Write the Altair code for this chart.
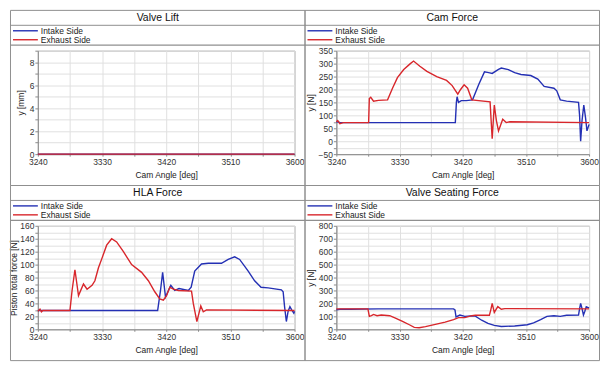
import altair as alt
import pandas as pd

# ---------------- data ----------------
ANGLE_LABELS = [3240, 3330, 3420, 3510, 3600]
ANGLE_GRID = [3240, 3285, 3330, 3375, 3420, 3465, 3510, 3555, 3600]
SERIES = ["Intake Side", "Exhaust Side"]
TITLES = ["Valve Lift", "Cam Force", "HLA Force", "Valve Seating Force"]
Y_TITLES = ["y [mm]", "y [N]", "Piston total force [N]", "y [N]"]
X_TITLE = "Cam Angle [deg]"

# Valve Lift
VL_IN_ANGLE = [3240, 3600]
VL_IN_VALUE = [0, 0]
VL_EX_ANGLE = [3240, 3600]
VL_EX_VALUE = [0, 0]
VL_Y_DOMAIN = [0, 9]
VL_Y_LABELS = [0, 2, 4, 6, 8]
VL_Y_GRID = [0, 1, 2, 3, 4, 5, 6, 7, 8, 9]

# Cam Force
CF_IN_ANGLE = [3240, 3245, 3250, 3300, 3409.5, 3411, 3412, 3414, 3418, 3425, 3434,
               3443, 3451, 3457, 3462, 3471, 3475, 3485, 3494, 3503, 3517, 3527,
               3536, 3550, 3554, 3559, 3568, 3585, 3586.5, 3588, 3590, 3592.5,
               3595, 3597, 3600]
CF_IN_VALUE = [75, 73, 72, 72, 72, 150, 172, 150, 157, 157, 160,
               220, 268, 265, 262, 278, 283, 277, 265, 258, 254, 240,
               212, 205, 195, 160, 155, 150, 100, 0, 80, 140,
               90, 40, 65]
CF_EX_ANGLE = [3240, 3242, 3245, 3250, 3257, 3286, 3287, 3289, 3293, 3300, 3313,
               3320, 3327, 3336, 3345, 3350, 3359, 3369, 3383, 3397, 3405, 3413,
               3417, 3422, 3427, 3433, 3459, 3460.5, 3462, 3465, 3468, 3471,
               3477, 3482, 3487, 3600]
CF_EX_VALUE = [75, 80, 68, 72, 72, 72, 165, 170, 155, 158, 160,
               205, 246, 277, 299, 310, 290, 270, 250, 235, 215, 182,
               200, 218, 205, 160, 152, 80, 10, 140, 80, 40,
               85, 72, 75, 72]
CF_Y_DOMAIN = [-50, 350]
CF_Y_LABELS = [-50, 0, 50, 100, 150, 200, 250, 300, 350]
CF_Y_GRID = [-50, -25, 0, 25, 50, 75, 100, 125, 150, 175, 200, 225, 250, 275,
             300, 325, 350]

# HLA Force
HLA_IN_ANGLE = [3240, 3408, 3412, 3415, 3419, 3426.5, 3432, 3438, 3451, 3455,
                3460, 3469.5, 3479, 3497.5, 3507, 3516, 3523, 3535, 3544, 3553,
                3563, 3581.5, 3584, 3586, 3588.5, 3591, 3593.5, 3596, 3599, 3600]
HLA_IN_VALUE = [29, 29, 60, 88, 50, 68, 60, 63, 60, 65,
                90, 101, 102, 102, 108, 112, 108, 90, 75, 65,
                64, 61, 58, 35, 12, 28, 35, 30, 25, 28]
HLA_EX_ANGLE = [3240, 3243, 3245, 3247, 3285, 3288, 3292, 3297, 3304, 3309,
                3316, 3320, 3325, 3330, 3336.5, 3343.5, 3350.5, 3360, 3371.5,
                3385.5, 3395, 3404, 3411, 3416, 3420.5, 3425, 3430, 3437,
                3455.5, 3458, 3463, 3466, 3468.5, 3472, 3476.5, 3600]
HLA_EX_VALUE = [28, 31, 27, 29, 29, 60, 92, 52, 70, 62,
                68, 75, 95, 110, 130, 140, 135, 120, 100,
                88, 75, 58, 47, 45, 52, 65, 62, 60,
                59, 40, 12, 25, 36, 27, 30, 29]
HLA_Y_DOMAIN = [0, 160]
HLA_Y_LABELS = [0, 20, 40, 60, 80, 100, 120, 140, 160]
HLA_Y_GRID = [0, 10, 20, 30, 40, 50, 60, 70, 80, 90, 100, 110, 120, 130, 140,
              150, 160]

# Valve Seating Force
VS_IN_ANGLE = [3240, 3245, 3260, 3300, 3407, 3409, 3410.5, 3416, 3423, 3437,
               3447, 3456, 3465, 3475, 3494, 3512, 3521, 3531, 3540, 3550, 3559,
               3568, 3585, 3586.5, 3588, 3590, 3592, 3594, 3596, 3598, 3600]
VS_IN_VALUE = [150, 155, 155, 158, 158, 150, 95, 110, 100, 105,
               70, 45, 30, 22, 25, 35, 50, 75, 100, 105, 100,
               108, 110, 160, 200, 160, 110, 140, 175, 170, 165]
VS_EX_ANGLE = [3240, 3285, 3287, 3290, 3293, 3298, 3304, 3316, 3325, 3335, 3344,
               3351, 3358, 3367, 3381, 3395, 3407, 3414, 3423, 3433, 3438, 3458,
               3460, 3462, 3465, 3470, 3475, 3480, 3600]
VS_EX_VALUE = [158, 158, 100, 105, 115, 105, 110, 105, 85, 60, 35,
               15, 12, 20, 38, 55, 75, 90, 90, 105, 108, 108,
               150, 200, 130, 175, 155, 160, 158]
VS_Y_DOMAIN = [0, 800]
VS_Y_LABELS = [0, 100, 200, 300, 400, 500, 600, 700, 800]
VS_Y_GRID = [0, 50, 100, 150, 200, 250, 300, 350, 400, 450, 500, 550, 600, 650,
             700, 750, 800]

# ---------------- style ----------------
BLUE = "#2430b4"
RED = "#d8262b"
BORDER = "#8f8f8f"
GRID = "#e0e0e0"
FONT = "Liberation Sans"

PANEL_W = 297
PANEL_H = 177
TOP = 41
PLOT_H = 104
RIGHT = 11
LEFT_COL = [28, 32]


def panel(title, ytitle, in_a, in_v, ex_a, ex_v, ydom, ylabels, ygrid, left, ytp):
    w = PANEL_W - left - RIGHT
    bottom = PANEL_H - TOP
    df_in = pd.DataFrame({"angle": in_a, "value": in_v})
    df_ex = pd.DataFrame({"angle": ex_a, "value": ex_v})
    xlab = ",".join(str(v) for v in ANGLE_LABELS)
    ylab = ",".join(str(v) for v in ylabels)
    x = alt.X("angle:Q",
              scale=alt.Scale(domain=[3240, 3600], nice=False, zero=False),
              axis=alt.Axis(values=ANGLE_GRID, format="d",
                            labelExpr=f"indexof([{xlab}], datum.value) >= 0 ? datum.label : ''",
                            labelFlush=False, labelOverlap=False,
                            tickSize=2, labelPadding=1, titlePadding=5),
              title=X_TITLE)
    y = alt.Y("value:Q",
              scale=alt.Scale(domain=ydom, nice=False, zero=False),
              axis=alt.Axis(values=ygrid, format="d",
                            labelExpr=f"indexof([{ylab}], datum.value) >= 0 ? datum.label : ''",
                            labelOverlap=False, labelFlush=False,
                            tickSize=3, labelPadding=1, titlePadding=ytp),
              title=ytitle)
    line_in = alt.Chart(df_in).mark_line(color=BLUE, strokeWidth=1.4).encode(x=x, y=y)
    line_ex = alt.Chart(df_ex).mark_line(color=RED, strokeWidth=1.4).encode(x=x, y=y)

    one = pd.DataFrame({"t": [title]})
    border = alt.Chart(one).mark_rect(fill="white", fillOpacity=0, stroke=BORDER,
                                      strokeWidth=1).encode(
        x=alt.value(-left + 0.5), x2=alt.value(w + RIGHT - 0.5),
        y=alt.value(-TOP + 0.5), y2=alt.value(bottom - 0.5))
    sep1 = alt.Chart(one).mark_rule(color=BORDER, strokeWidth=1).encode(
        x=alt.value(-left), x2=alt.value(w + RIGHT), y=alt.value(-TOP + 15.5))
    sep2 = alt.Chart(one).mark_rule(color=BORDER, strokeWidth=1.3).encode(
        x=alt.value(-left), x2=alt.value(w + RIGHT), y=alt.value(-TOP + 35.5))
    ttl = alt.Chart(one).mark_text(font=FONT, fontSize=10.5, color="#111",
                                   baseline="middle", align="center").encode(
        x=alt.value((w + RIGHT - left) / 2), y=alt.value(-TOP + 8.5), text="t:N")
    layers = [border, sep1, sep2, ttl]
    for i, (name, col) in enumerate(zip(SERIES, [BLUE, RED])):
        yy = -TOP + 21 + 9 * i
        d = pd.DataFrame({"t": [name]})
        layers.append(alt.Chart(d).mark_rule(color=col, strokeWidth=1.4).encode(
            x=alt.value(-left + 3), x2=alt.value(-left + 28), y=alt.value(yy)))
        layers.append(alt.Chart(d).mark_text(font=FONT, fontSize=8.5, color="#222",
                                             baseline="middle", align="left").encode(
            x=alt.value(-left + 31), y=alt.value(yy), text="t:N"))
    layers += [line_in, line_ex]
    return alt.layer(*layers).properties(width=w, height=PLOT_H)


p1 = panel(TITLES[0], Y_TITLES[0], VL_IN_ANGLE, VL_IN_VALUE, VL_EX_ANGLE, VL_EX_VALUE,
           VL_Y_DOMAIN, VL_Y_LABELS, VL_Y_GRID, LEFT_COL[0], 4)
p2 = panel(TITLES[1], Y_TITLES[1], CF_IN_ANGLE, CF_IN_VALUE, CF_EX_ANGLE, CF_EX_VALUE,
           CF_Y_DOMAIN, CF_Y_LABELS, CF_Y_GRID, LEFT_COL[1], 3)
p3 = panel(TITLES[2], Y_TITLES[2], HLA_IN_ANGLE, HLA_IN_VALUE, HLA_EX_ANGLE, HLA_EX_VALUE,
           HLA_Y_DOMAIN, HLA_Y_LABELS, HLA_Y_GRID, LEFT_COL[0], 1)
p4 = panel(TITLES[3], Y_TITLES[3], VS_IN_ANGLE, VS_IN_VALUE, VS_EX_ANGLE, VS_EX_VALUE,
           VS_Y_DOMAIN, VS_Y_LABELS, VS_Y_GRID, LEFT_COL[1], 3)

col_gap = RIGHT + LEFT_COL[1] - 1
row_gap = (PANEL_H - TOP - PLOT_H) + TOP - 1

chart = alt.concat(
    p1, p2, p3, p4, columns=2, bounds="flush",
    spacing={"row": row_gap, "column": col_gap},
).properties(padding=0, background="white").configure_view(
    stroke="#9a9a9a", strokeWidth=1
).configure_axis(
    domainColor="#8a8a8a", tickColor="#8a8a8a", gridColor=GRID, grid=True,
    labelFont=FONT, labelFontSize=8.5, labelColor="#333",
    titleFont=FONT, titleFontSize=8.5, titleFontWeight="normal", titleColor="#222",
)

chart.save("out.html", embed_options={"renderer": "svg", "actions": False})
